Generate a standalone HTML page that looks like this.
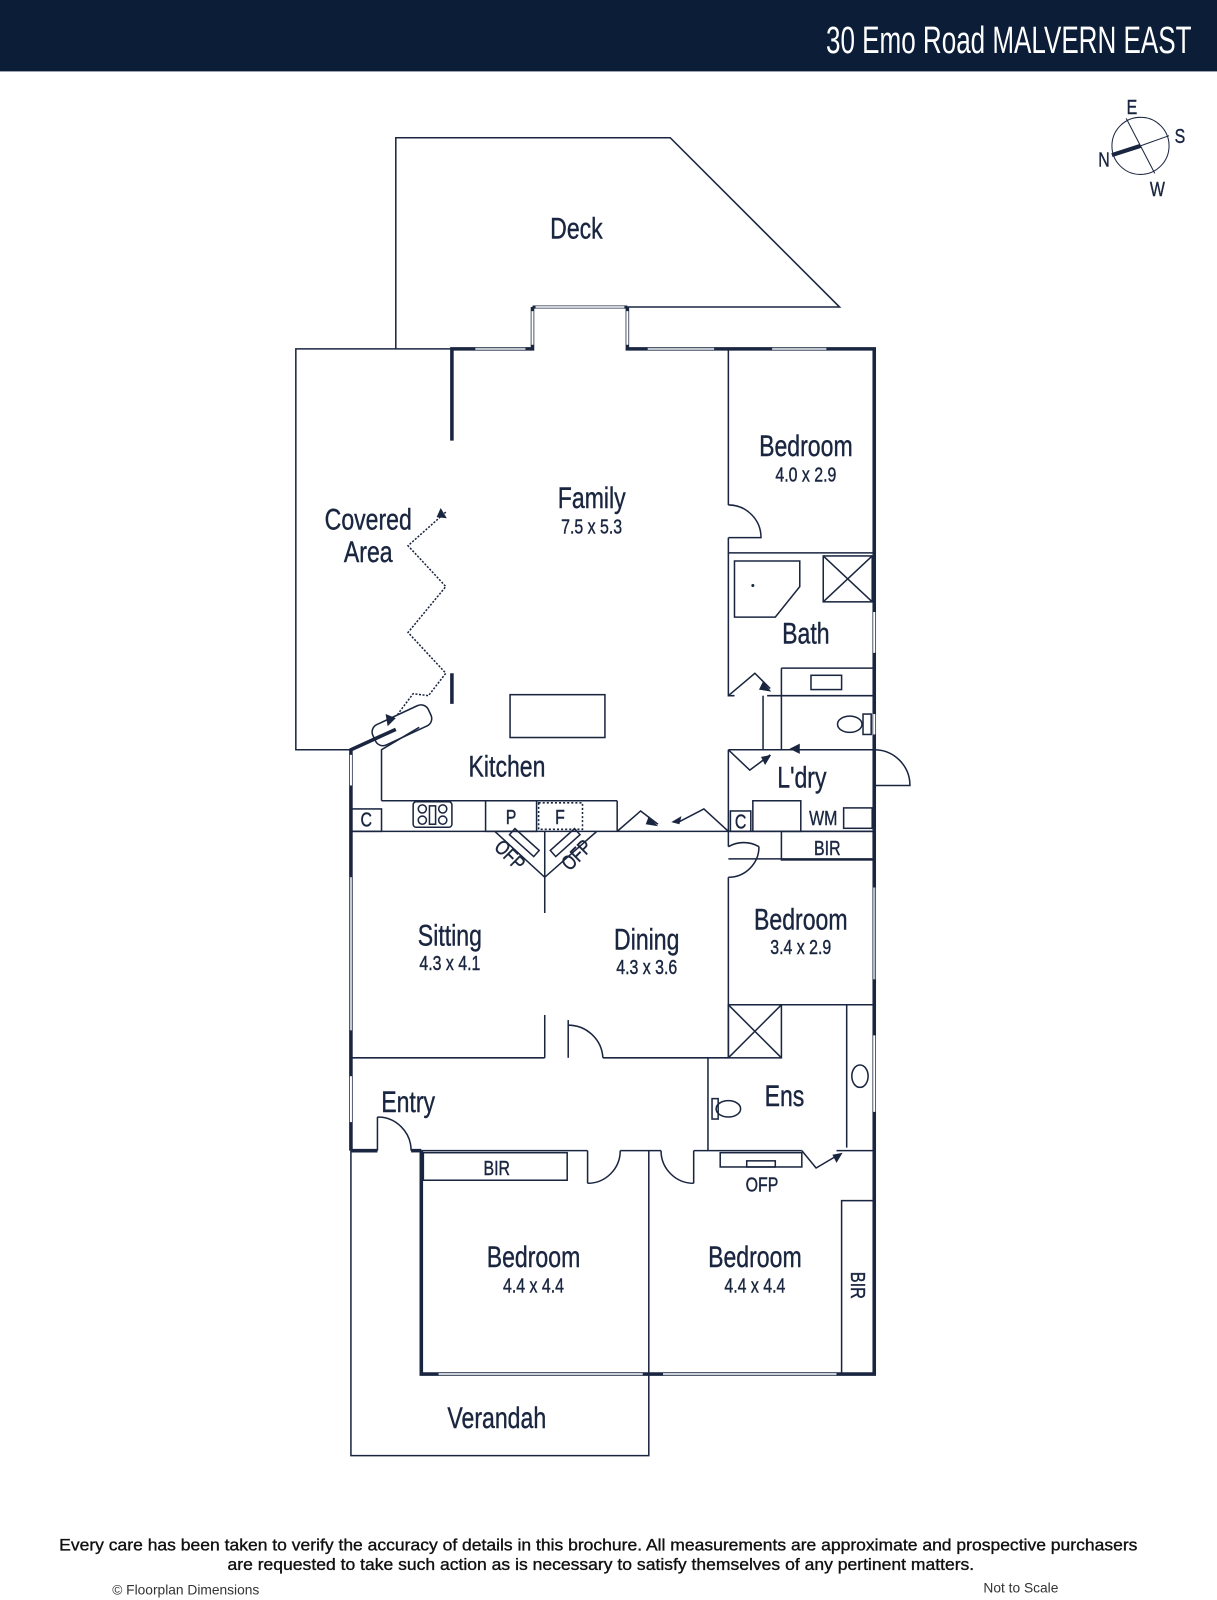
<!DOCTYPE html>
<html><head><meta charset="utf-8"><style>
body{margin:0;width:1217px;height:1600px;background:#fff;overflow:hidden;font-family:"Liberation Sans",sans-serif}
svg{position:absolute;left:0;top:0}
.l{font-family:"Liberation Sans",sans-serif;fill:#1a2640;stroke:#1a2640;stroke-width:0.4}
.l text.c{transform-box:fill-box;transform-origin:center;transform:scaleX(0.78)}
</style></head><body>
<svg width="1217" height="1600" viewBox="0 0 1193 1568.5" preserveAspectRatio="none">
<rect x="0" y="0" width="1193" height="70" fill="#0c1d38"/>
<text x="0" y="52" text-anchor="end" font-family="Liberation Sans,sans-serif" font-size="37" fill="#fff" transform="translate(1168 0) scale(0.69 1)">30 Emo Road MALVERN EAST</text>
<g stroke="#1a2640" fill="none">
<circle cx="1118" cy="143" r="28" stroke-width="1"/>
<line x1="1104" y1="116" x2="1132" y2="170" stroke-width="1"/>
<line x1="1146" y1="133" x2="1118" y2="143" stroke-width="1"/>
<line x1="1090" y1="152" x2="1118" y2="143" stroke-width="4"/>
</g>
<g class="l" font-size="20"><text class="c" x="1103" y="112">E</text><text class="c" x="1150" y="140">S</text><text class="c" x="1075" y="163">N</text><text class="c" x="1125" y="192">W</text></g>

<g stroke="#1a2640" fill="none" stroke-width="1.5">
<polyline points="388,342 388,135 657,135 823,301 615,301"/>
<line x1="522" y1="301" x2="615" y2="301" stroke-width="3"/>
<polyline points="443,342 290,342 290,735 344,735"/>
<g stroke-width="3.5">
<polyline points="443,432 443,342 522,342 522,301"/>
<polyline points="615,301 615,342 857,342 857,1347 413,1347 413,1128"/>
<polyline points="344,1128 344,735 388,715"/>
<line x1="344" y1="1128" x2="370" y2="1128"/>
<line x1="403" y1="1128" x2="413" y2="1128"/>
<line x1="443" y1="660" x2="443" y2="690"/>
</g>
<g stroke="#fff" stroke-width="2">
<line x1="466" y1="342" x2="515" y2="342"/><line x1="635" y1="342" x2="700" y2="342"/><line x1="757" y1="342" x2="810" y2="342"/>
<line x1="857" y1="600" x2="857" y2="640"/><line x1="857" y1="700" x2="857" y2="720"/>
<line x1="857" y1="870" x2="857" y2="960"/><line x1="857" y1="1015" x2="857" y2="1090"/>
<line x1="344" y1="740" x2="344" y2="770"/><line x1="344" y1="860" x2="344" y2="1010"/><line x1="344" y1="1055" x2="344" y2="1100"/>
<line x1="430" y1="1347" x2="630" y2="1347"/><line x1="650" y1="1347" x2="820" y2="1347"/>
<line x1="525" y1="301" x2="612" y2="301"/>
<line x1="522" y1="305" x2="522" y2="338"/><line x1="615" y1="305" x2="615" y2="338"/>
</g>
<g stroke="#9aa3b0" stroke-width="1"><line x1="466" y1="342" x2="515" y2="342"/><line x1="635" y1="342" x2="700" y2="342"/><line x1="757" y1="342" x2="810" y2="342"/><line x1="430" y1="1347" x2="630" y2="1347"/><line x1="650" y1="1347" x2="820" y2="1347"/><line x1="344" y1="860" x2="344" y2="1010"/><line x1="857" y1="870" x2="857" y2="960"/><line x1="525" y1="301" x2="612" y2="301"/></g>
<polyline points="344,1128 344,1427 636,1427 636,1347"/>
<polyline points="714,342 714,495"/>
<polyline points="714,527 714,542 857,542"/>
<polyline points="714,542 714,682 720,682"/>
<line x1="766" y1="655" x2="766" y2="735"/>
<line x1="766" y1="655" x2="857" y2="655"/>
<line x1="752" y1="682" x2="857" y2="682"/>
<line x1="748" y1="682" x2="748" y2="735" />
<line x1="714" y1="735" x2="857" y2="735"/>
<polyline points="714,735 714,815"/>
<line x1="344" y1="815" x2="715" y2="815"/>
<line x1="714" y1="815" x2="857" y2="815"/>
<rect x="766" y="815" width="90" height="28"/>
<line x1="714" y1="842" x2="857" y2="842"/>
<polyline points="714,815 714,830"/>
<polyline points="714,860 714,1037"/>
<line x1="714" y1="985" x2="857" y2="985"/>
<rect x="714" y="985" width="52" height="52"/><line x1="714" y1="985" x2="766" y2="1037"/><line x1="766" y1="985" x2="714" y2="1037"/>
<line x1="830" y1="985" x2="830" y2="1125"/>
<line x1="344" y1="1037" x2="534" y2="1037"/><line x1="591" y1="1037" x2="714" y2="1037"/>
<line x1="534" y1="995" x2="534" y2="1037"/><line x1="557" y1="1000" x2="557" y2="1037"/>
<line x1="694" y1="1037" x2="694" y2="1128"/>
<line x1="413" y1="1128" x2="576" y2="1128"/><line x1="608" y1="1128" x2="648" y2="1128"/><line x1="680" y1="1128" x2="786" y2="1128"/><line x1="820" y1="1128" x2="857" y2="1128"/>
<line x1="576" y1="1128" x2="576" y2="1160"/><line x1="680" y1="1128" x2="680" y2="1160"/>
<rect x="415" y="1130" width="141" height="27"/>
<line x1="636" y1="1128" x2="636" y2="1347"/>
<rect x="825" y="1177" width="32" height="170"/>
<line x1="534" y1="815" x2="534" y2="895"/>
<polyline points="485,815 534,860 585,815"/>
<rect x="498" y="822" width="32" height="8" transform="rotate(42 514 826)"/>
<rect x="538" y="822" width="32" height="8" transform="rotate(-42 554 826)"/>
<rect x="706" y="1130" width="80" height="14"/><rect x="732" y="1138" width="28" height="6"/>
<polyline points="374,785 374,735 411,713"/>
<line x1="374" y1="785" x2="605" y2="785"/>
<rect x="344" y="793" width="30" height="22"/>
<rect x="405" y="786" width="38" height="25" rx="3"/>
<circle cx="414" cy="793" r="4"/><circle cx="414" cy="804" r="4"/><circle cx="434" cy="793" r="4"/><circle cx="434" cy="804" r="4"/><rect x="421" y="790" width="6" height="18"/>
<rect x="476" y="785" width="50" height="30"/>
<rect x="528" y="787" width="43" height="26" stroke-dasharray="2 2"/>
<line x1="605" y1="785" x2="605" y2="815"/>
<rect x="500" y="681" width="93" height="42"/>
<rect x="364" y="700" width="60" height="22" rx="8" transform="rotate(-25 394 711)"/>
<polygon points="720,550 784,550 784,575 760,605 720,605"/>
<rect x="807" y="545" width="48" height="45"/><line x1="807" y1="545" x2="855" y2="590"/><line x1="855" y1="545" x2="807" y2="590"/>
<rect x="795" y="662" width="30" height="14"/>
<ellipse cx="833" cy="710" rx="12" ry="8"/><rect x="846" y="700" width="8" height="20"/>
<rect x="738" y="785" width="47" height="30"/><rect x="716" y="795" width="20" height="20"/>
<rect x="827" y="792" width="28" height="20"/>
<ellipse cx="843" cy="1055" rx="8" ry="11"/>
<ellipse cx="714" cy="1087" rx="12" ry="8"/><rect x="698" y="1077" width="6" height="20"/>
<path d="M714,495 A32,32 0 0 1 746,527 L714,527"/>
<path d="M714,830 A30,30 0 0 1 744,830 M714,860 A30,30 0 0 0 744,830" />
<path d="M557,1005 A34,34 0 0 1 591,1037"/>
<path d="M370,1095 A33,33 0 0 1 403,1128 M370,1095 L370,1128"/>
<path d="M576,1160 A32,32 0 0 0 608,1128"/>
<path d="M648,1128 A32,32 0 0 0 680,1160"/>
<path d="M857,735 A35,35 0 0 1 892,770 L857,770"/>
<polyline points="714,682 740,660 755,675"/>
<polyline points="714,735 735,755 755,740"/>
<polyline points="605,815 628,795 645,808"/>
<polyline points="714,815 690,793 665,806"/>
<polyline points="786,1128 800,1145 822,1132"/>
<polyline points="437,502 400,535 437,575 400,620 437,660 420,682 405,680 390,700" stroke-dasharray="2 1.5"/>
</g>
<g fill="#1a2640">
<polygon points="432,498 438,508 428,507"/><polygon points="756,678 748,668 744,676"/><polygon points="756,740 746,742 750,750"/>
<polygon points="774,734 784,729 784,739"/><polygon points="645,810 636,800 633,808"/><polygon points="658,806 668,800 666,808"/>
<polygon points="826,1130 816,1132 820,1140"/><polygon points="380,712 378,700 388,704"/>
<circle cx="738" cy="574" r="1.5"/>
</g>
<g class="l" text-anchor="middle" font-size="29">
<text class="c" x="565" y="234">Deck</text>
<text class="c" x="361" y="519">Covered</text><text class="c" x="361" y="551">Area</text>
<text class="c" x="580" y="498">Family</text>
<text class="c" x="790" y="447">Bedroom</text>
<text class="c" x="790" y="631">Bath</text>
<text class="c" x="786" y="772">L'dry</text>
<text class="c" x="497" y="761">Kitchen</text>
<text class="c" x="441" y="927">Sitting</text>
<text class="c" x="634" y="931">Dining</text>
<text class="c" x="785" y="911">Bedroom</text>
<text class="c" x="769" y="1084">Ens</text>
<text class="c" x="400" y="1090">Entry</text>
<text class="c" x="523" y="1242">Bedroom</text>
<text class="c" x="740" y="1242">Bedroom</text>
<text class="c" x="487" y="1400">Verandah</text>
</g>
<g class="l" text-anchor="middle" font-size="20">
<text class="c" x="580" y="523">7.5 x 5.3</text><text class="c" x="790" y="472">4.0 x 2.9</text>
<text class="c" x="441" y="951">4.3 x 4.1</text><text class="c" x="634" y="955">4.3 x 3.6</text>
<text class="c" x="785" y="935">3.4 x 2.9</text><text class="c" x="523" y="1267">4.4 x 4.4</text><text class="c" x="740" y="1267">4.4 x 4.4</text>
<text class="c" x="359" y="810">C</text><text class="c" x="501" y="808">P</text><text class="c" x="549" y="808">F</text>
<text class="c" x="726" y="812">C</text><text class="c" x="807" y="809">WM</text><text class="c" x="811" y="838">BIR</text>
<text class="c" x="487" y="1152">BIR</text><text class="c" x="747" y="1168">OFP</text>
<text x="0" y="0" transform="translate(834 1260) rotate(90) scale(0.8 1)">BIR</text>
<text x="0" y="0" transform="translate(495 843) rotate(45) scale(0.8 1)">OFP</text>
<text x="0" y="0" transform="translate(570 843) rotate(-45) scale(0.8 1)">OFP</text>
</g>
<g font-family="Liberation Sans,sans-serif" fill="#111" stroke="#111" stroke-width="0.35" font-size="16.5">
<text x="58" y="1520" textLength="1057" lengthAdjust="spacingAndGlyphs">Every care has been taken to verify the accuracy of details in this brochure. All measurements are approximate and prospective purchasers</text>
<text x="223" y="1539" textLength="732" lengthAdjust="spacingAndGlyphs">are requested to take such action as is necessary to satisfy themselves of any pertinent matters.</text>
</g>
<text x="110" y="1563" font-size="13.5" fill="#333">© Floorplan Dimensions</text>
<text x="964" y="1561" font-size="13.5" fill="#333">Not to Scale</text>
</svg>
</body></html>
